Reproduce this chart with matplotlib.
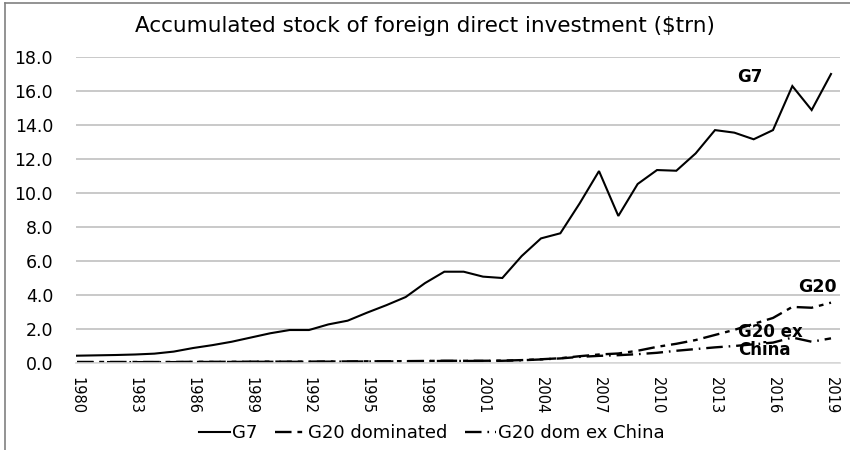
import matplotlib
matplotlib.use("Agg")
import matplotlib.pyplot as plt
from matplotlib.lines import Line2D

plt.rcParams['font.family'] = ['DejaVu Sans']

# data ($trn)
years = list(range(1980, 2020))
g7 = [0.43, 0.45, 0.47, 0.50, 0.55, 0.67, 0.88, 1.05, 1.25, 1.50,
      1.75, 1.94, 1.94, 2.27, 2.49, 2.96, 3.40, 3.88, 4.70, 5.37,
      5.37, 5.08, 5.00, 6.29, 7.33, 7.63, 9.39, 11.29, 8.65, 10.53,
      11.35, 11.31, 12.33, 13.70, 13.55, 13.16, 13.70, 16.29, 14.88, 17.00]
g20_dom = [0.06, 0.06, 0.06, 0.06, 0.06, 0.06, 0.07, 0.07, 0.07, 0.08,
           0.08, 0.08, 0.08, 0.09, 0.09, 0.10, 0.10, 0.11, 0.12, 0.13,
           0.13, 0.13, 0.14, 0.17, 0.22, 0.28, 0.40, 0.50, 0.56, 0.72,
           0.95, 1.13, 1.35, 1.65, 1.95, 2.30, 2.65, 3.30, 3.25, 3.55]
g20_ex_china = [0.05, 0.05, 0.05, 0.05, 0.05, 0.05, 0.06, 0.06, 0.06, 0.07,
                0.07, 0.07, 0.07, 0.08, 0.08, 0.09, 0.09, 0.10, 0.11, 0.12,
                0.12, 0.12, 0.13, 0.16, 0.21, 0.27, 0.36, 0.42, 0.46, 0.52,
                0.60, 0.72, 0.82, 0.92, 1.00, 1.10, 1.20, 1.50, 1.25, 1.45]
tick_years = list(range(1980, 2020, 3))
y_ticks = [0, 2, 4, 6, 8, 10, 12, 14, 16, 18]

dash_dom = (7, 2.5, 2, 2.5)
dash_ex = (7, 2.5, 0.7, 2.5)

fig = plt.figure(figsize=(8.5, 4.5), dpi=100)
ax = fig.add_axes([76 / 850, 1 - 363 / 450, 764 / 850, 306 / 450])

ax.plot(years, g7, color="black", lw=1.5, solid_joinstyle="miter")
ax.plot(years, g20_dom, color="black", lw=1.7, dashes=dash_dom)
ax.plot(years, g20_ex_china, color="black", lw=1.7, dashes=dash_ex)

ax.set_xlim(1980 - 1 / 19.33, 2019 + 9 / 19.33)
ax.set_ylim(0, 18)
ax.set_yticks(y_ticks)
ax.set_yticklabels(["%.1f" % v for v in y_ticks], fontsize=12.5)
ax.set_xticks(tick_years)
ax.set_xticklabels([str(y) for y in tick_years], rotation=-90, fontsize=10.5)
ax.tick_params(length=0)
ax.tick_params(axis="y", pad=16.5)
ax.tick_params(axis="x", pad=10)
ax.grid(axis="y", color="#c0c0c0", lw=1.2)
ax.set_axisbelow(True)
for s in ["top", "right", "left"]:
    ax.spines[s].set_visible(False)
ax.spines["bottom"].set_color("#d9d9d9")
ax.spines["bottom"].set_linewidth(1.2)

# series labels inside the plot
ax.text(2014.8, 16.85, "G7", fontsize=12, fontweight="bold", ha="center", va="center")
ax.text(2019.3, 4.5, "G20", fontsize=12.5, fontweight="bold", ha="right", va="center")
ax.text(2014.2, 1.28, "G20 ex\nChina", fontsize=12, fontweight="bold", ha="left",
        va="center", linespacing=1.0)

fig.text(0.5, 1 - 26 / 450, "Accumulated stock of foreign direct investment ($trn)",
         ha="center", va="center", fontsize=15.5)

handles = [Line2D([], [], color="black", lw=1.5),
           Line2D([], [], color="black", lw=1.7, dashes=dash_dom),
           Line2D([], [], color="black", lw=1.7, dashes=dash_ex)]
fig.legend(handles, ["G7", "G20 dominated", "G20 dom ex China"], loc="center",
           bbox_to_anchor=(0.508, 1 - 433 / 450), ncol=3, frameon=False,
           fontsize=13, handlelength=1.7, handletextpad=0.1, columnspacing=1.0)

# chart border (only left and top edges show in the reference)
fig.add_artist(Line2D([5 / 850, 5 / 850], [0, 1 - 3 / 450], color="#808080", lw=1.2))
fig.add_artist(Line2D([5 / 850, 1], [1 - 3 / 450, 1 - 3 / 450], color="#808080", lw=1.2))

fig.savefig("out.png", dpi=100)
